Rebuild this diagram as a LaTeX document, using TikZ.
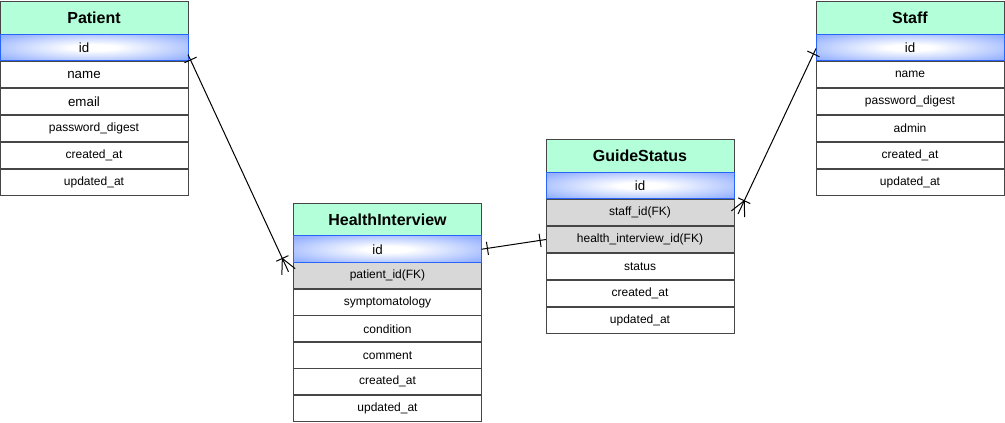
\documentclass[tikz,border=0pt]{standalone}
\usepackage{fontspec}
\setmainfont{Liberation Sans}
\usetikzlibrary{calc}

\definecolor{hdrgreen}{RGB}{179,255,218}
\definecolor{idblue}{RGB}{150,178,255}
\definecolor{idline}{RGB}{40,100,250}
\definecolor{fkgray}{RGB}{216,216,216}
\definecolor{boxline}{RGB}{70,70,70}

\pgfdeclareradialshading{idglow}{\pgfpoint{0bp}{0bp}}{color(0bp)=(white); color(6bp)=(white); color(32bp)=(idblue); color(50bp)=(idblue)}

\newcommand{\erone}[2]{%
  \coordinate (tk) at ($(#1)!4.5pt!(#2)$);
  \draw ($(tk)!5pt!90:(#2)$) -- ($(tk)!5pt!-90:(#2)$);}
\newcommand{\ermany}[2]{%
  \coordinate (tk) at ($(#1)!11pt!(#2)$);
  \draw ($(tk)!5pt!90:(#2)$) -- ($(tk)!5pt!-90:(#2)$);
  \draw ($(#1)!5.5pt!90:(#2)$) -- (tk) -- ($(#1)!5.5pt!-90:(#2)$);}

\begin{document}
\begin{tikzpicture}[x=0.75pt, y=-0.75pt, line width=0.75pt]
            \tikzset{tbl/.style = {draw=boxline, minimum width=141pt, minimum height=20pt, inner sep=0pt, outer sep=0pt, font=\fontsize{9}{11}\selectfont}}
            \tikzset{hdr/.style = {tbl, fill=hdrgreen, minimum height=24.75pt, font=\fontsize{12}{14}\selectfont\bfseries}}
            \tikzset{key/.style = {tbl, draw=idline, shading=idglow, font=\fontsize{10}{12}\selectfont}}
            \tikzset{fk/.style = {tbl, fill=fkgray}}
            \tikzset{big/.style = {font=\fontsize{10}{12}\selectfont}}

            \useasboundingbox (0,0) rectangle (1005,422);

            \node[hdr] (p) at (94, 17.5) {Patient};
            \node[tbl,big] (pnm) at (94, 74.5) {\hspace*{-15pt}name};
            \node[tbl,big] (pem) at (94, 101.5) {\hspace*{-15pt}email};
            \node[tbl] (ppw) at (94, 128.5) {password\_digest};
            \node[tbl] (pca) at (94, 155.5) {created\_at};
            \node[tbl] (pua) at (94, 182.5) {updated\_at};
            \node[key] (pid) at (94, 47.5) {\hspace*{-15pt}id};

            \node[hdr] (s) at (910, 17.5) {Staff};
            \node[tbl] (snm) at (910, 74.5) {name};
            \node[tbl] (spw) at (910, 101.5) {password\_digest};
            \node[tbl] (sad) at (910, 128.5) {admin};
            \node[tbl] (sca) at (910, 155.5) {created\_at};
            \node[tbl] (sua) at (910, 182.5) {updated\_at};
            \node[key] (sid) at (910, 47.5) {id};

            \node[hdr] (h) at (387.5, 219.5) {HealthInterview};
            \node[fk] (hfk) at (387.5, 275.75) {patient\_id(FK)};
            \node[tbl] (hsy) at (387.5, 302.25) {symptomatology};
            \node[tbl] (hcd) at (387.5, 328.75) {condition};
            \node[tbl] (hcm) at (387.5, 355.25) {comment};
            \node[tbl] (hca) at (387.5, 381.75) {created\_at};
            \node[tbl] (hua) at (387.5, 408.25) {updated\_at};
            \node[key] (hid) at (387.5, 249.25) {\hspace*{-15pt}id};

            \node[hdr] (g) at (640, 156) {GuideStatus};
            \node[fk] (gfs) at (640, 212.5) {staff\_id(FK)};
            \node[fk] (gfh) at (640, 239.5) {health\_interview\_id(FK)};
            \node[tbl] (gst) at (640, 266.5) {status};
            \node[tbl] (gca) at (640, 293.5) {created\_at};
            \node[tbl] (gua) at (640, 320.5) {updated\_at};
            \node[key] (gid) at (640, 185.5) {id};

            \coordinate (a1) at ($(pid.east)+(0,7)$);
            \coordinate (a2) at ($(hfk.west)+(-5,-4)$);
            \draw (a1) -- (a2);
            \erone{a1}{a2}
            \ermany{a2}{a1}

            \draw (hid.east) -- (gfh.west);
            \erone{hid.east}{gfh.west}
            \erone{gfh.west}{hid.east}

            \coordinate (b1) at ($(gfs.east)+(4,1.5)$);
            \coordinate (b2) at ($(sid.west)+(0,1)$);
            \draw (b1) -- (b2);
            \ermany{b1}{b2}
            \erone{b2}{b1}
\end{tikzpicture}
\end{document}
